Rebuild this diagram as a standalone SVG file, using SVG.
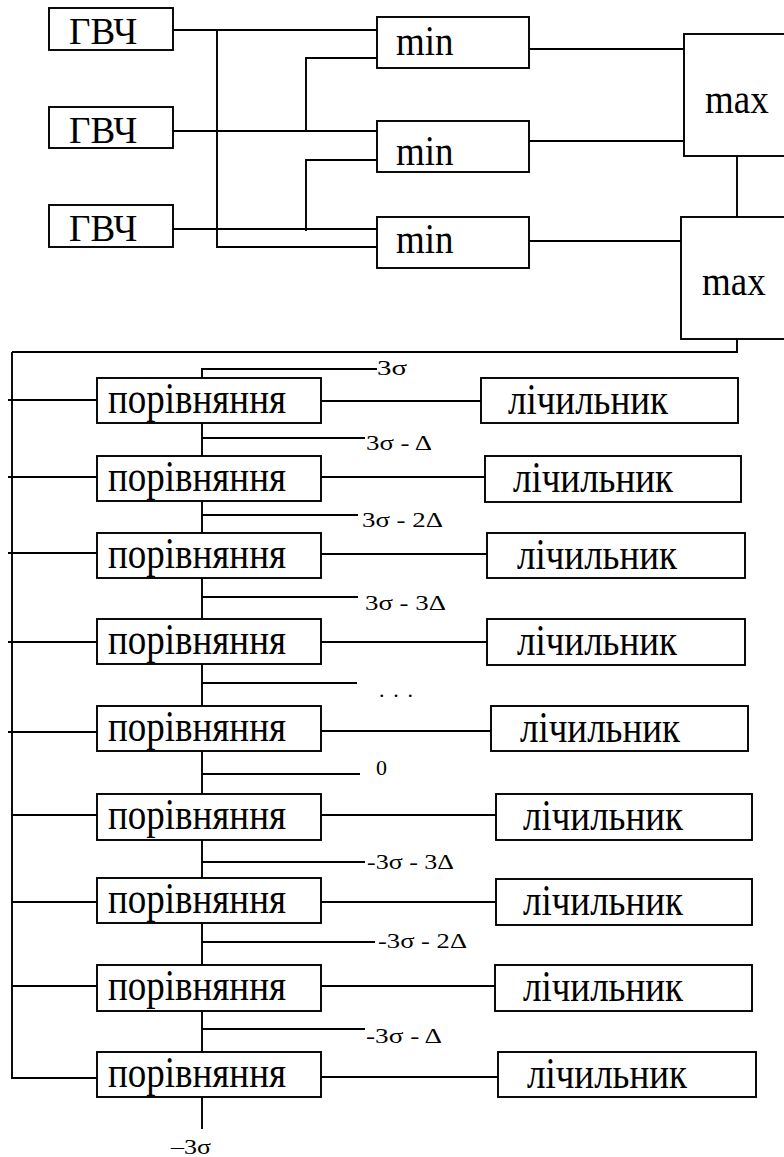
<svg xmlns="http://www.w3.org/2000/svg" width="784" height="1157" viewBox="0 0 784 1157">
  <style>
    .box { fill: #ffffff; stroke: #000000; stroke-width: 1.9; }
    .wire { fill: none; stroke: #000000; stroke-width: 1.9; }
  </style>
  <rect width="784" height="1157" fill="#ffffff"/>

  <!-- connectors -->
  <g id="connectors" class="wire">
    <!-- generators to min blocks -->
    <polyline points="173,30 377,30"/>
    <polyline points="217,30 217,247 377,247"/>
    <polyline points="306,131 306,58 377,58"/>
    <polyline points="173,131 377,131"/>
    <polyline points="306,231 306,160 377,160"/>
    <polyline points="173,229 377,229"/>
    <!-- min blocks to max blocks -->
    <polyline points="529,49 684,49"/>
    <polyline points="529,141 684,141"/>
    <polyline points="529,241 681,241"/>
    <polyline points="737,153 737,219"/>
    <!-- max output to common bus -->
    <polyline points="737,336 737,352 12,352"/>
    <polyline points="12,352 12,1079"/>
    <!-- bus branches to comparators -->
    <polyline points="8,400 97,400"/>
    <polyline points="8,477 97,477"/>
    <polyline points="8,553 97,553"/>
    <polyline points="8,642 97,642"/>
    <polyline points="8,732 97,732"/>
    <polyline points="12,815 97,815"/>
    <polyline points="12,902 97,902"/>
    <polyline points="12,986 97,986"/>
    <polyline points="12,1078 97,1078"/>
    <!-- comparators to counters -->
    <polyline points="321,401 481,401"/>
    <polyline points="321,477 485,477"/>
    <polyline points="321,554 487,554"/>
    <polyline points="321,642 487,642"/>
    <polyline points="321,731 491,731"/>
    <polyline points="321,815 496,815"/>
    <polyline points="321,902 496,902"/>
    <polyline points="321,986 495,986"/>
    <polyline points="321,1077 498,1077"/>
    <!-- threshold ladder -->
    <polyline points="377,369 202,369 202,378"/>
    <polyline points="202,423 202,456"/>
    <polyline points="202,438 365,438"/>
    <polyline points="202,501 202,533"/>
    <polyline points="202,515 358,515"/>
    <polyline points="202,578 202,619"/>
    <polyline points="202,597 358,597"/>
    <polyline points="202,664 202,706"/>
    <polyline points="202,683 357,683"/>
    <polyline points="202,751 202,794"/>
    <polyline points="202,774 360,774"/>
    <polyline points="202,840 202,878"/>
    <polyline points="202,862 365,862"/>
    <polyline points="202,923 202,965"/>
    <polyline points="202,942 375,942"/>
    <polyline points="202,1011 202,1052"/>
    <polyline points="202,1029 365,1029"/>
    <polyline points="202,1097 202,1129"/>
  </g>

  <!-- generators -->
  <g id="gen1"><rect class="box" x="49" y="8" width="124" height="42"/><text font-family="'Liberation Serif', serif" font-size="37" x="69" y="44">ГВЧ</text></g>
  <g id="gen2"><rect class="box" x="49" y="107" width="124" height="41"/><text font-family="'Liberation Serif', serif" font-size="37" x="69" y="143">ГВЧ</text></g>
  <g id="gen3"><rect class="box" x="49" y="205" width="124" height="42"/><text font-family="'Liberation Serif', serif" font-size="37" x="69" y="241">ГВЧ</text></g>

  <!-- min blocks -->
  <g id="min1"><rect class="box" x="377" y="17" width="152" height="51"/><text font-family="'Liberation Serif', serif" font-size="37" transform="translate(396,55) scale(1,1.12)">min</text></g>
  <g id="min2"><rect class="box" x="377" y="121" width="152" height="51"/><text font-family="'Liberation Serif', serif" font-size="37" transform="translate(396,165) scale(1,1.12)">min</text></g>
  <g id="min3"><rect class="box" x="377" y="217" width="152" height="51"/><text font-family="'Liberation Serif', serif" font-size="37" transform="translate(396,253) scale(1,1.12)">min</text></g>

  <!-- max blocks -->
  <g id="max1"><rect class="box" x="684" y="34" width="110" height="122"/><text font-family="'Liberation Serif', serif" font-size="37" transform="translate(705,113) scale(1,1.12)">max</text></g>
  <g id="max2"><rect class="box" x="681" y="217" width="113" height="122"/><text font-family="'Liberation Serif', serif" font-size="37" transform="translate(702,295) scale(1,1.12)">max</text></g>

  <!-- comparators -->
  <g id="cmp1"><rect class="box" x="97" y="378" width="224" height="45"/><text font-family="'Liberation Serif', serif" font-size="37" transform="translate(108,413) scale(1,1.2)">порівняння</text></g>
  <g id="cmp2"><rect class="box" x="97" y="456" width="224" height="45"/><text font-family="'Liberation Serif', serif" font-size="37" transform="translate(108,491) scale(1,1.2)">порівняння</text></g>
  <g id="cmp3"><rect class="box" x="97" y="533" width="224" height="45"/><text font-family="'Liberation Serif', serif" font-size="37" transform="translate(108,568) scale(1,1.2)">порівняння</text></g>
  <g id="cmp4"><rect class="box" x="97" y="619" width="224" height="45"/><text font-family="'Liberation Serif', serif" font-size="37" transform="translate(108,654) scale(1,1.2)">порівняння</text></g>
  <g id="cmp5"><rect class="box" x="97" y="706" width="224" height="45"/><text font-family="'Liberation Serif', serif" font-size="37" transform="translate(108,741) scale(1,1.2)">порівняння</text></g>
  <g id="cmp6"><rect class="box" x="97" y="794" width="224" height="46"/><text font-family="'Liberation Serif', serif" font-size="37" transform="translate(108,829) scale(1,1.2)">порівняння</text></g>
  <g id="cmp7"><rect class="box" x="97" y="878" width="224" height="45"/><text font-family="'Liberation Serif', serif" font-size="37" transform="translate(108,913) scale(1,1.2)">порівняння</text></g>
  <g id="cmp8"><rect class="box" x="97" y="965" width="224" height="46"/><text font-family="'Liberation Serif', serif" font-size="37" transform="translate(108,1000) scale(1,1.2)">порівняння</text></g>
  <g id="cmp9"><rect class="box" x="97" y="1052" width="224" height="45"/><text font-family="'Liberation Serif', serif" font-size="37" transform="translate(108,1087) scale(1,1.2)">порівняння</text></g>

  <!-- counters -->
  <g id="cnt1"><rect class="box" x="481" y="378" width="257" height="45"/><text font-family="'Liberation Serif', serif" font-size="37" transform="translate(508,414) scale(1,1.2)">лічильник</text></g>
  <g id="cnt2"><rect class="box" x="485" y="456" width="256" height="46"/><text font-family="'Liberation Serif', serif" font-size="37" transform="translate(513,492) scale(1,1.2)">лічильник</text></g>
  <g id="cnt3"><rect class="box" x="487" y="533" width="258" height="45"/><text font-family="'Liberation Serif', serif" font-size="37" transform="translate(517,569) scale(1,1.2)">лічильник</text></g>
  <g id="cnt4"><rect class="box" x="487" y="619" width="258" height="46"/><text font-family="'Liberation Serif', serif" font-size="37" transform="translate(517,655) scale(1,1.2)">лічильник</text></g>
  <g id="cnt5"><rect class="box" x="491" y="706" width="257" height="45"/><text font-family="'Liberation Serif', serif" font-size="37" transform="translate(520,742) scale(1,1.2)">лічильник</text></g>
  <g id="cnt6"><rect class="box" x="496" y="794" width="256" height="46"/><text font-family="'Liberation Serif', serif" font-size="37" transform="translate(523,830) scale(1,1.2)">лічильник</text></g>
  <g id="cnt7"><rect class="box" x="496" y="879" width="256" height="46"/><text font-family="'Liberation Serif', serif" font-size="37" transform="translate(523,915) scale(1,1.2)">лічильник</text></g>
  <g id="cnt8"><rect class="box" x="495" y="965" width="257" height="46"/><text font-family="'Liberation Serif', serif" font-size="37" transform="translate(523,1001) scale(1,1.2)">лічильник</text></g>
  <g id="cnt9"><rect class="box" x="498" y="1052" width="258" height="45"/><text font-family="'Liberation Serif', serif" font-size="37" transform="translate(527,1088) scale(1,1.2)">лічильник</text></g>

  <!-- threshold labels -->
  <g id="thresholds">
    <text font-family="'Liberation Serif', serif" font-size="22" x="377" y="375" textLength="30" lengthAdjust="spacingAndGlyphs">3σ</text>
    <text font-family="'Liberation Serif', serif" font-size="22" x="366" y="450" textLength="66" lengthAdjust="spacingAndGlyphs">3σ - Δ</text>
    <text font-family="'Liberation Serif', serif" font-size="22" x="362" y="527" textLength="81" lengthAdjust="spacingAndGlyphs">3σ - 2Δ</text>
    <text font-family="'Liberation Serif', serif" font-size="22" x="365" y="610" textLength="81" lengthAdjust="spacingAndGlyphs">3σ - 3Δ</text>
    <text font-family="'Liberation Serif', serif" font-size="22" x="379" y="697" textLength="34" lengthAdjust="spacing">. . .</text>
    <text font-family="'Liberation Serif', serif" font-size="22" x="376" y="775">0</text>
    <text font-family="'Liberation Serif', serif" font-size="22" x="367" y="869" textLength="87" lengthAdjust="spacingAndGlyphs">-3σ - 3Δ</text>
    <text font-family="'Liberation Serif', serif" font-size="22" x="378" y="948" textLength="89" lengthAdjust="spacingAndGlyphs">-3σ - 2Δ</text>
    <text font-family="'Liberation Serif', serif" font-size="22" x="366" y="1043" textLength="76" lengthAdjust="spacingAndGlyphs">-3σ - Δ</text>
    <text font-family="'Liberation Serif', serif" font-size="22" x="171" y="1154" textLength="40" lengthAdjust="spacingAndGlyphs">–3σ</text>
  </g>
</svg>
